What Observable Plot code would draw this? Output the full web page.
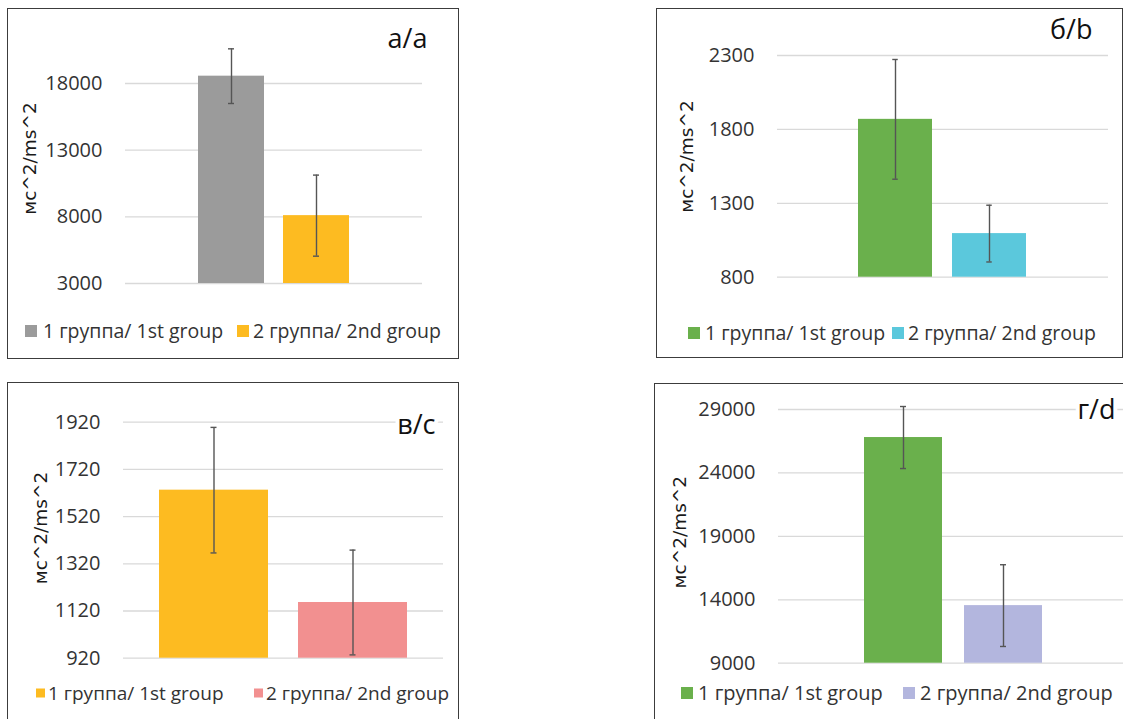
<!DOCTYPE html>
<html>
<head>
<meta charset="utf-8">
<script src="https://cdn.jsdelivr.net/npm/d3@7"></script>
<script src="https://cdn.jsdelivr.net/npm/@observablehq/plot@0.6"></script>
<style>
  html, body { margin: 0; padding: 0; background: #fff; }
  body { width: 1123px; height: 719px; overflow: hidden; position: relative; font-family: "Open Sans", Lato, sans-serif; }
  .box { position: absolute; border: 1px solid #3c3c3c; box-sizing: border-box; }
  .sq { position: absolute; transform: translateY(-50%); }
  .lt { position: absolute; color: #333; white-space: nowrap; transform: translateY(-50%); line-height: 1; }
</style>
</head>
<body>
<script>
// ---- data ----
const groups = ["1 группа/ 1st group", "2 группа/ 2nd group"];
const panelLabels = ["а/a", "б/b", "в/с", "г/d"];
const yLabel = "мс^2/ms^2";

const meansA = [18550, 8090];
const errA = [2050, 3040];
const ticksA = [3000, 8000, 13000, 18000];

const meansB = [1868, 1095];
const errB = [405, 192];
const ticksB = [800, 1300, 1800, 2300];

const meansC = [1632, 1156];
const errC = [266, 222];
const ticksC = [920, 1120, 1320, 1520, 1720, 1920];

const meansD = [26790, 13540];
const errD = [2445, 3222];
const ticksD = [9000, 14000, 19000, 24000, 29000];

const colorsA = ["#9b9b9b", "#fdbb21"];
const colorsB = ["#6ab04c", "#5bc8dc"];
const colorsC = ["#fdbb21", "#f29090"];
const colorsD = ["#6ab04c", "#b3b6de"];

// ---- layout (page pixels) ----
const layouts = [
  {left: 7, top: 8, boxW: 452, boxH: 351, svgW: 452, svgH: 290, mL: 118, mR: 37, mT: 75, yBot: 275,
   bw: 66, gap: 19, labX: 23, labY: 150, titleRight: 420, titleBase: 39,
   legY: 331, legFont: 19.5, sqSize: 12, sq: [25, 237], tx: [43, 253]},
  {left: 656, top: 8, boxW: 467, boxH: 350, svgW: 467, svgH: 290, mL: 121, mR: 15, mT: 47, yBot: 268.7,
   bw: 74.5, gap: 20, labX: 31, labY: 148, titleRight: 436, titleBase: 30,
   legY: 333, legFont: 19.5, sqSize: 12, sq: [688, 892], tx: [705, 908]},
  {left: 7, top: 382, boxW: 452, boxH: 345, svgW: 452, svgH: 290, mL: 116, mR: 16, mT: 39.7, yBot: 275.7,
   bw: 109, gap: 30, labX: 34, labY: 145.5, titleRight: 428, titleBase: 51,
   legY: 693, legFont: 19, sqSize: 9, sq: [36, 254], tx: [48, 266]},
  {left: 654, top: 383, boxW: 472, boxH: 345, svgW: 480, svgH: 290, mL: 124, mR: 6, mT: 26, yBot: 279.7,
   bw: 78, gap: 22, labX: 26, labY: 148.7, titleRight: 461, titleBase: 35,
   legY: 693, legFont: 20, sqSize: 12, sq: [681, 903], tx: [698, 920]}
];

const panels = [
  {means: meansA, errs: errA, ticks: ticksA, colors: colorsA},
  {means: meansB, errs: errB, ticks: ticksB, colors: colorsB},
  {means: meansC, errs: errC, ticks: ticksC, colors: colorsC},
  {means: meansD, errs: errD, ticks: ticksD, colors: colorsD}
];

panels.forEach((p, k) => {
  const L = layouts[k];
  const data = groups.map((g, i) => ({group: g, mean: p.means[i], err: p.errs[i]}));
  const base = p.ticks[0];
  const topT = p.ticks[p.ticks.length - 1];
  const plotW = L.svgW - L.mL - L.mR;
  const step = L.bw + L.gap;
  const pIn = L.gap / step;
  const pOut = (plotW / step - (groups.length - pIn)) / 2;
  const capInset = (L.bw - 6) / 2;
  const frameMidY = (L.mT + L.yBot) / 2;

  const box = document.createElement("div");
  box.className = "box";
  Object.assign(box.style, {left: L.left + "px", top: L.top + "px", width: L.boxW + "px", height: L.boxH + "px"});
  document.body.appendChild(box);

  const svg = Plot.plot({
    width: L.svgW,
    height: L.svgH,
    marginLeft: L.mL,
    marginRight: L.mR,
    marginTop: L.mT,
    marginBottom: L.svgH - L.yBot,
    style: {position: "absolute", left: L.left + "px", top: L.top + "px", overflow: "visible",
            background: "transparent", fontFamily: "'Open Sans', sans-serif", fontSize: "20px", color: "#333"},
    x: {domain: groups, paddingInner: pIn, paddingOuter: pOut, axis: null},
    y: {domain: [base, topT], axis: null},
    color: {domain: groups, range: p.colors},
    marks: [
      Plot.ruleY(p.ticks, {stroke: "#d9d9d9", strokeWidth: 1.3}),
      Plot.text(p.ticks, {y: d => d, text: d => String(d), frameAnchor: "left", dx: -23, textAnchor: "end",
                          fontSize: 20, fill: "#333"}),
      Plot.barY(data, {x: "group", y1: base, y2: "mean", fill: "group"}),
      Plot.ruleX(data, {x: "group", y1: d => d.mean - d.err, y2: d => d.mean + d.err, stroke: "#555", strokeWidth: 1.4}),
      Plot.tickY(data, {x: "group", y: d => d.mean + d.err, stroke: "#555", strokeWidth: 1.4, insetLeft: capInset, insetRight: capInset}),
      Plot.tickY(data, {x: "group", y: d => d.mean - d.err, stroke: "#555", strokeWidth: 1.4, insetLeft: capInset, insetRight: capInset}),
      Plot.text([yLabel], {frameAnchor: "left", textAnchor: "middle", rotate: -90, dx: L.labX - L.mL, dy: L.labY - frameMidY,
                           fontSize: 18.5, fontFamily: "'DejaVu Sans', sans-serif", fill: "#1a1a1a"}),
      Plot.text([panelLabels[k]], {frameAnchor: "top-right", textAnchor: "end", lineAnchor: "bottom",
                           dx: L.titleRight - (L.svgW - L.mR), dy: L.titleBase - L.mT,
                           fontSize: 27, fill: "#111", stroke: "white", strokeWidth: 8})
    ]
  });
  document.body.appendChild(svg);

  groups.forEach((g, i) => {
    const sq = document.createElement("div");
    sq.className = "sq";
    Object.assign(sq.style, {left: L.sq[i] + "px", top: L.legY + "px", width: L.sqSize + "px", height: L.sqSize + "px",
                             background: p.colors[i]});
    document.body.appendChild(sq);
    const t = document.createElement("div");
    t.className = "lt";
    t.textContent = g;
    Object.assign(t.style, {left: L.tx[i] + "px", top: L.legY + "px", fontSize: L.legFont + "px"});
    document.body.appendChild(t);
  });
});
</script>
</body>
</html>
